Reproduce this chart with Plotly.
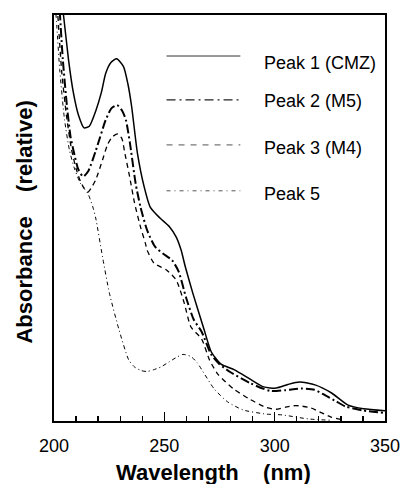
import plotly.graph_objects as go

# ---------------- data ----------------
series_names = ["Peak 1 (CMZ)", "Peak 2 (M5)", "Peak 3 (M4)", "Peak 5"]

wl_peak1 = [203.0, 204.4, 206.6, 208.8, 211.0, 213.6, 216.0, 219.0, 221.5, 223.4,
            225.8, 228.4, 231.5, 233.5, 235.2, 237.8, 240.9, 243.6, 248.0, 252.4,
            255.4, 257.6, 259.5, 262.9, 267.8, 271.3, 275.7, 281.8, 288.9, 295.0,
            300.7, 306.0, 311.3, 318.3, 325.8, 333.3, 340.3, 350.0]
abs_peak1 = [105, 99.5, 88.9, 80.8, 75.5, 72.2, 72.6, 76.5, 81.0, 85.6,
             88.3, 89.2, 87.3, 83.0, 77.4, 66.0, 57.6, 52.7, 50.0, 47.8,
             45.3, 42.1, 38.0, 31.5, 22.9, 17.0, 14.0, 12.6, 10.3, 8.4,
             8.1, 9.0, 9.6, 8.9, 6.9, 3.9, 3.0, 2.5]

wl_peak2 = [202.6, 204.0, 205.9, 207.5, 208.8, 211.0, 213.2, 215.5, 219.0, 223.4,
            226.0, 228.6, 231.0, 232.6, 234.4, 237.0, 239.2, 242.2, 245.7, 249.5,
            253.5, 256.5, 259.8, 263.3, 266.9, 271.3, 275.0, 280.0, 289.0, 298.0,
            305.0, 312.0, 318.0, 323.0, 328.0, 332.0, 340.0, 350.0]
abs_peak2 = [101, 89, 77.4, 70.0, 66.7, 62.0, 60.2, 61.5, 66.7, 74.1,
             77.0, 77.8, 76.3, 74.1, 68.5, 58.5, 52.7, 47.0, 43.0, 41.2,
             39.6, 36.8, 30.5, 25.0, 22.0, 16.3, 14.0, 12.0, 9.3, 7.4,
             7.6, 8.0, 7.7, 6.3, 4.8, 3.6, 2.6, 2.0]

wl_peak3 = [201.5, 203.5, 205.7, 207.9, 210.1, 212.0, 213.5, 215.4, 217.0, 218.9,
            222.0, 224.2, 226.4, 229.0, 230.8, 232.1, 234.3, 236.5, 239.2, 241.4,
            242.2, 245.3, 251.0, 255.4, 259.0, 262.0, 266.9, 270.5, 274.3, 281.4,
            288.9, 296.3, 300.7, 305.0, 309.5, 316.0, 321.4, 325.8, 331.0]
abs_peak3 = [102, 86, 75, 67, 62, 59, 57.5, 56.4, 57.5, 59.4,
             64.3, 68.0, 70.0, 70.7, 69.5, 66.0, 60.1, 53.7, 47.8, 43.8,
             42.1, 38.9, 37.2, 34.7, 29.1, 23.2, 20.2, 15.0, 11.5, 7.9,
             5.3, 3.3, 2.9, 3.4, 3.8, 3.3, 2.0, 0.9, 0.3]

wl_peak5 = [200.5, 201.3, 202.6, 204.8, 207.0, 209.2, 211.9, 214.0, 215.4, 217.6,
            218.9, 222.0, 225.1, 229.5, 233.9, 236.5, 239.6, 242.2, 245.0, 248.4,
            252.0, 255.9, 258.5, 262.0, 265.0, 267.0, 272.6, 278.7, 285.8, 296.3,
            303.4, 315.3, 325.0]
abs_peak5 = [103, 97, 86.5, 74.1, 66.7, 62.3, 58.6, 57.0, 56.0, 52.7,
             50.0, 40.4, 31.5, 22.4, 15.0, 13.3, 12.4, 12.2, 12.6, 13.3,
             14.5, 15.8, 16.4, 15.9, 14.3, 12.6, 7.9, 4.7, 2.7, 1.7,
             1.5, 0.5, 0.2]

x_tick_vals = [200, 250, 300, 350]
x_tick_text = ["200", "250", "300", "350"]

# ---------------- styles ----------------
styles = [
    dict(color="black", width=1.5, dash="solid"),
    dict(color="black", width=2.0, dash="9px,3px,2px,3px"),
    dict(color="black", width=1.3, dash="5px,4px"),
    dict(color="black", width=1.0, dash="4px,3px,1px,3px"),
]
legend_styles = [
    dict(color="#333", width=1.0, dash="solid"),
    dict(color="#222", width=1.4, dash="9px,4px,2px,4px"),
    dict(color="#555", width=1.0, dash="6px,6px"),
    dict(color="#555", width=1.0, dash="4px,4px,1px,4px"),
]

FONT = "Liberation Sans, Arial, Helvetica, sans-serif"

fig = go.Figure()
for name, xs, ys, st in zip(series_names,
                            [wl_peak1, wl_peak2, wl_peak3, wl_peak5],
                            [abs_peak1, abs_peak2, abs_peak3, abs_peak5],
                            styles):
    fig.add_trace(go.Scatter(x=xs, y=ys, mode="lines", name=name,
                             line=dict(shape="spline", smoothing=0.6, **st),
                             showlegend=False, hoverinfo="skip"))

# manual legend (sample lines + labels) in paper coordinates
legend_line_y = [0.899, 0.791, 0.680, 0.567]
legend_text_y = [0.882, 0.788, 0.672, 0.559]
for name, ly, ty, st in zip(series_names, legend_line_y, legend_text_y, legend_styles):
    fig.add_shape(type="line", xref="paper", yref="paper",
                  x0=0.340, x1=0.563, y0=ly, y1=ly, line=st)
    fig.add_annotation(xref="paper", yref="paper", x=0.628, y=ty, text=name,
                       showarrow=False, xanchor="left", yanchor="middle",
                       font=dict(family=FONT, size=18, color="black"))

# axis titles
fig.add_annotation(xref="paper", yref="paper", x=0.482, y=-0.128,
                   text="<b>Wavelength\u00a0\u00a0\u00a0 (nm)</b>", showarrow=False,
                   xanchor="center", yanchor="middle",
                   font=dict(family=FONT, size=22, color="black"))
fig.add_annotation(xref="paper", yref="paper", x=-0.088, y=0.491,
                   text="<b>Absorbance\u00a0\u00a0\u00a0 (relative)</b>", showarrow=False,
                   xanchor="center", yanchor="middle", textangle=-90,
                   font=dict(family=FONT, size=22, color="black"))

fig.update_layout(
    width=412, height=484,
    margin=dict(l=54, r=17, t=15, b=63),
    paper_bgcolor="white", plot_bgcolor="white",
    font=dict(family=FONT, color="black"),
    xaxis=dict(range=[200, 350], tickmode="array", tickvals=x_tick_vals,
               ticktext=x_tick_text, ticks="inside", ticklen=9, tickwidth=1.5,
               tickcolor="black", showgrid=False, zeroline=False,
               showline=True, linewidth=2, linecolor="black", mirror=True,
               tickfont=dict(family=FONT, size=18, color="black"),
               ticklabelstandoff=7,
               minor=dict(dtick=10, tick0=200, ticks="inside", ticklen=5,
                          tickwidth=1.3, tickcolor="black", showgrid=False)),
    yaxis=dict(range=[0, 100], showticklabels=False, ticks="",
               showgrid=False, zeroline=False, showline=True, linewidth=2,
               linecolor="black", mirror=True),
)

fig.write_html("out.html",
               config={"displayModeBar": False, "staticPlot": True},
               post_script="document.body.style.margin='0';document.body.style.padding='0';")
